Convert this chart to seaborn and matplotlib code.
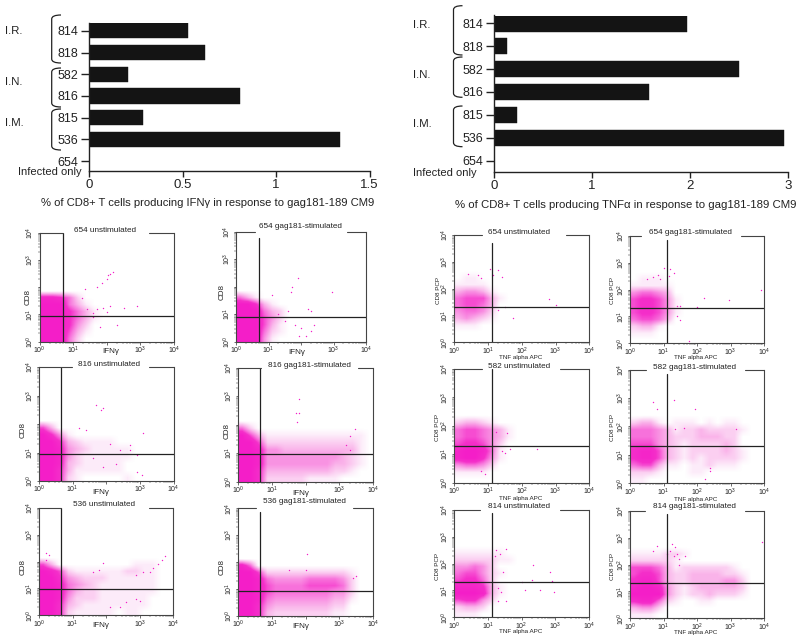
import numpy as np
import pandas as pd
import matplotlib
matplotlib.use("Agg")
import matplotlib.pyplot as plt
import seaborn as sns
from matplotlib.colors import LinearSegmentedColormap
from matplotlib.path import Path
from matplotlib.patches import PathPatch
from matplotlib.ticker import FixedLocator, FixedFormatter

# ---------- bar chart data ----------
monkeys = ["814", "818", "582", "816", "815", "536", "654"]
ifn_values = [0.53, 0.62, 0.21, 0.81, 0.29, 1.34, 0.0]
tnf_values = [1.97, 0.13, 2.50, 1.58, 0.24, 2.96, 0.0]
ifn_ticks = [0, 0.5, 1, 1.5]
ifn_ticklabels = ["0", "0.5", "1", "1.5"]
tnf_ticks = [0, 1, 2, 3]
tnf_ticklabels = ["0", "1", "2", "3"]
ifn_xlabel = "% of CD8+ T cells producing IFN\u03b3 in response to gag181-189 CM9"
tnf_xlabel = "% of CD8+ T cells producing TNF\u03b1 in response to gag181-189 CM9"

# ---------- flow panels: density read per 0.25-decade cell (rows run bottom to top, digit 0-9) ----------
d_654u_i = ["9995200", "9996310", "9997420", "9997531", "9997531", "9995310", "8875200"]
d_654s_i = ["9994100", "9995210", "9996310", "9996420", "9995320", "9973100", "5310000"]
d_816u_i = ["9972100000100000", "9973111111000000", "9983211111000000", "9984211111100000",
            "9984321111100000", "9973211110000000", "9741000000000000", "6300000000000000"]
d_816s_i = ["9972222211110000", "9973333333322100", "9984444444433210", "9984444444443210",
            "9984433333333310", "9962222222222210", "9631111111111110", "5200000000000000"]
d_536u_i = ["9972111110110000", "9973211111111000", "9984222111111000", "9985322111111100",
            "9985432111111100", "9974322211111100", "9862111111221100", "6300000000011100"]
d_536s_i = ["9973222222211000", "9974333333322000", "9985444444433100", "9986555555544200",
            "9986555566665200", "9985444455554200", "9962222222222100", "8500000000000000"]
d_654u_t = ["0000000", "0000000", "1110000", "3432100", "4554200", "5665300", "5666310", "3443100", "1111000", "0110000"]
d_654s_t = ["0000000", "1110000", "2331000", "5665300", "6776410", "6776410", "6776410", "4554300", "1111100", "0111000"]
d_582u_t = ["0000000", "1111000", "4554200", "8997410", "8998510", "6776420", "5665431", "5665431", "2332100"]
d_582s_t = ["1100000000000000", "2221000110000000", "5663110112111000", "7886321212222100",
            "7886321222232100", "6664321222232000", "5554322233322000", "5554312232222100", "2331011101011000"]
d_814u_t = ["1110000000000000", "2332000000000000", "6774200000000000", "9998310000000000",
            "8887310000000000", "6775200000000000", "5664210000000000", "4454200000000000",
            "2222211000000000", "1111110000000000"]
d_814s_t = ["1110000000000000", "3442000000000000", "7885210011000000", "9999421223222100",
            "8998421233333200", "7886322333344200", "6776322333322100", "6665312222221000",
            "2222210000000000", "1111221000000000"]

# ---------- flow panels: isolated events (log10 x, log10 y) ----------
p_654u_i = [(1.7,2.0),(1.85,2.15),(2.0,2.3),(2.05,2.45),(2.1,2.5),(2.2,2.55),(1.35,1.95),(1.4,1.2),(1.7,1.2),(1.9,1.25),
            (2.1,1.3),(2.5,1.25),(2.9,1.3),(1.8,0.55),(2.3,0.6),(1.6,1.05),(2.0,1.1),(1.6,0.9),(1.25,1.6)]
p_654s_i = [(1.7,1.8),(1.72,2.0),(1.9,2.3),(2.95,1.8),(1.1,1.7),(1.3,1.0),(1.6,1.1),(2.2,1.2),(2.3,1.1),(1.8,0.6),
            (2.0,0.5),(2.3,0.4),(2.4,0.6),(1.95,0.2),(2.15,0.2),(1.5,0.75)]
p_816u_i = [(1.7,2.65),(1.85,2.5),(1.9,2.55),(1.2,1.85),(1.4,1.8),(2.1,1.3),(2.7,1.25),(3.1,1.7),(2.9,0.9),(2.9,0.3),
            (3.05,0.2),(2.3,0.6),(1.6,0.8),(1.9,0.5),(2.4,1.1),(2.7,1.1)]
p_816s_i = [(1.7,2.4),(1.8,2.4),(1.75,2.1),(1.8,2.9),(3.45,1.85),(3.3,1.6),(3.2,1.3),(3.3,1.1)]
p_536u_i = [(0.2,2.3),(0.3,2.25),(0.2,2.05),(3.75,2.2),(3.65,2.05),(3.55,1.9),(3.4,1.75),(3.3,1.6),(3.1,1.6),(2.9,1.5),
            (1.9,1.95),(1.8,1.7),(1.6,1.6),(2.6,0.5),(2.9,0.6),(3.0,0.55),(2.1,0.3),(2.4,0.3)]
p_536s_i = [(2.05,2.3),(3.5,1.5),(3.4,1.4),(1.5,1.7),(2.0,1.7)]
p_654u_t = [(0.7,2.5),(0.4,2.55),(1.05,2.75),(1.3,2.7),(1.15,2.5),(1.4,2.45),(0.8,2.4),(2.8,1.6),(3.0,1.4),(1.75,0.9),
            (1.3,1.2),(1.5,1.3)]
p_654s_t = [(0.5,2.4),(0.7,2.45),(0.85,2.55),(0.9,2.4),(1.0,2.8),(1.2,2.75),(1.3,2.6),(1.15,2.5),(1.4,1.4),(1.5,1.4),
            (2.0,1.35),(2.2,1.7),(2.95,1.6),(3.9,2.0),(1.4,1.0),(1.5,0.85),(1.75,0.1)]
p_582u_t = [(1.55,1.75),(1.5,1.05),(1.65,1.2),(2.45,1.2),(1.25,1.8),(1.4,1.1),(0.9,0.3),(0.8,0.4)]
p_582s_t = [(0.7,2.85),(1.3,2.95),(1.95,2.6),(2.4,0.45),(2.4,0.55),(2.25,0.15),(0.8,2.6),(3.15,1.9),(1.35,1.9),(1.6,1.95)]
p_814u_t = [(1.55,2.55),(1.25,2.5),(1.35,2.35),(1.2,2.3),(1.45,1.7),(2.35,1.95),(2.85,1.7),(2.9,1.35),(2.95,0.95),
            (2.55,1.0),(2.1,1.0),(1.4,0.95),(1.55,0.6),(1.3,0.6),(1.3,1.1),(2.0,1.3),(2.3,1.4)]
p_814s_t = [(1.2,2.5),(1.35,2.65),(1.4,2.4),(1.45,2.2),(1.3,2.3),(1.45,2.0),(1.65,2.3),(1.25,2.75),(3.95,2.85),
            (0.8,2.7),(0.7,2.5),(1.1,2.4)]

titles = ["654 unstimulated", "654 gag181-stimulated", "816 unstimulated", "816 gag181-stimulated",
          "536 unstimulated", "536 gag181-stimulated", "654 unstimulated", "654 gag181-stimulated",
          "582 unstimulated", "582 gag181-stimulated", "814 unstimulated", "814 gag181-stimulated"]
densities = [d_654u_i, d_654s_i, d_816u_i, d_816s_i, d_536u_i, d_536s_i,
             d_654u_t, d_654s_t, d_582u_t, d_582s_t, d_814u_t, d_814s_t]
events = [p_654u_i, p_654s_i, p_816u_i, p_816s_i, p_536u_i, p_536s_i,
          p_654u_t, p_654s_t, p_582u_t, p_582s_t, p_814u_t, p_814s_t]
gates_x = [0.69, 0.72, 0.66, 0.66, 0.66, 0.66, 1.13, 1.11, 1.13, 1.11, 1.12, 1.11]
gates_y = [0.94, 0.89, 0.96, 0.96, 0.96, 0.94, 1.30, 1.30, 1.30, 1.30, 1.32, 1.31]
gate_tops = [1.0, 0.945, 1.0, 1.0, 1.0, 0.965, 0.925, 0.96, 1.0, 0.96, 0.97, 0.97]
decade_ticks = [0, 1, 2, 3, 4]
decade_labels = ["$10^{%d}$" % d for d in decade_ticks]
decade_labels_ifn = ["$10^{0}$", "$10^{1}$", "", "$10^{3}$", "$10^{4}$"]

# ---------- layout (pixels) ----------
W, H = 800, 639
boxes = [(39.5,232.7,174,341.7),(236,231.7,366,341.7),(39,367,173.7,481),(238,367.7,373.3,481.7),
         (39,507.7,173.3,615.3),(238,508.3,373,616),(454.3,235,589.3,342.3),(630,235.7,764,343.3),
         (454.3,369,589.3,482.7),(630,369.7,764,483.3),(454,510,589,617.3),(630,510.7,764,618.3)]
top_gaps = [(0.71,3.27),(0.58,3.4),(0.97,3.28),(0.67,3.56),(0.66,3.28),(0.53,3.4),
            (0.81,3.31),(0.32,3.3),(0.81,3.13),(0.48,3.43),(0.76,3.13),(0.45,3.43)]
title_xy = [(104.7,230.3),(300,227),(109.3,364.7),(309.3,365.7),(104,504.3),(304,501.3),
            (519.3,232),(690,232.7),(519.3,366.3),(694.3,367.3),(519,506.7),(694.3,507)]
xlabel_xy = [(111,351),(296.7,352),(101,492.7),(301,493.3),(101,625.7),(300.7,626.7),
             (521,357),(696,358),(521,498.5),(695.7,499),(520.7,632),(695.7,632.8)]
ylabel_xy = [(28,296.7),(221.7,292),(22.7,430),(227,430.7),(23.3,566.7),(222.3,567),
             (438,291),(612.5,291),(437.5,427.7),(612.5,427.7),(437.5,566),(612.5,566)]

sns.set_theme(style="white", rc={"axes.facecolor": "white", "figure.facecolor": "white"})
plt.rcParams["font.family"] = ["Liberation Sans", "DejaVu Sans"]
plt.rcParams["mathtext.default"] = "regular"

fig = plt.figure(figsize=(W / 100, H / 100), dpi=100)
INK = "#222222"
PINK = "#f41ec8"
cmap = LinearSegmentedColormap.from_list(
    "flow", [(0, "#ffffff"), (0.1, "#fdeefa"), (0.33, "#fab4ea"), (0.55, "#f874dc"), (0.75, "#f530ca"), (1, PINK)])


def add_axes(x0, y0, x1, y1):
    return fig.add_axes([x0 / W, 1 - y1 / H, (x1 - x0) / W, (y1 - y0) / H])


def px_text(x, y, s, **kw):
    kw.setdefault("ha", "center")
    kw.setdefault("va", "center")
    kw.setdefault("color", INK)
    fig.text(x / W, 1 - y / H, s, **kw)


def brace(x_spine, x_tip, y0, y1):
    r = 4.0
    pts = [(x_tip, y0), (x_spine, y0), (x_spine, y0 + r), (x_spine, y1 - r), (x_spine, y1), (x_tip, y1)]
    codes = [Path.MOVETO, Path.CURVE3, Path.CURVE3, Path.LINETO, Path.CURVE3, Path.CURVE3]
    pts = [(px / W, 1 - py / H) for px, py in pts]
    fig.add_artist(PathPatch(Path(pts, codes), transform=fig.transFigure, fill=False, lw=0.9, ec=INK))


def bar_panel(box, values, ylim, width, ticks, ticklabels):
    ax = add_axes(*box)
    df = pd.DataFrame({"monkey": monkeys, "pct": values})
    sns.barplot(data=df, x="pct", y="monkey", order=monkeys, color="#141414", saturation=1,
                width=width, ax=ax, edgecolor="#141414", linewidth=0.3)
    ax.set_ylim(*ylim)
    ax.set_xlim(ticks[0], ticks[-1])
    ax.set_xticks(ticks)
    ax.set_xticklabels(ticklabels)
    ax.set_xlabel("")
    ax.set_ylabel("")
    for s in ("top", "right"):
        ax.spines[s].set_visible(False)
    for s in ("left", "bottom"):
        ax.spines[s].set_color(INK)
        ax.spines[s].set_linewidth(1.0)
    ax.tick_params(axis="y", length=6, width=1, color=INK, labelsize=9, labelcolor=INK, pad=2, left=True)
    ax.tick_params(axis="x", length=4.5, width=1, color=INK, labelsize=9.5, labelcolor=INK, pad=1.5, bottom=True)
    return ax


# ---------- bar charts ----------
bar_panel((89, 23, 369.5, 171), ifn_values, (6.46, -0.36), 0.70, ifn_ticks, ifn_ticklabels)
bar_panel((494, 15.5, 787.7, 171.7), tnf_values, (6.48, -0.34), 0.72, tnf_ticks, tnf_ticklabels)

px_text(207.5, 202.5, ifn_xlabel, fontsize=8.1)
px_text(625.8, 205, tnf_xlabel, fontsize=8.2)
px_text(81.7, 172, "Infected only", ha="right", fontsize=8)
px_text(476.7, 173.5, "Infected only", ha="right", fontsize=8)
for x, y, s in [(5, 30.7, "I.R."), (5, 81.7, "I.N."), (5, 122.7, "I.M."),
                (412.7, 25, "I.R."), (412.7, 75, "I.N."), (412.7, 124, "I.M.")]:
    px_text(x, y, s, ha="left", fontsize=8.2)
for x0, x1, y0, y1 in [(51.7, 61, 15, 63), (51.7, 61, 68, 107), (51.7, 61, 109, 150),
                       (453.5, 462.5, 5.7, 55), (453.5, 462.5, 57, 97.3), (453.5, 462.5, 106, 146.7)]:
    brace(x0, x1, y0, y1)

# ---------- flow panels ----------
for i, box in enumerate(boxes):
    ax = add_axes(*box)
    rows = densities[i]
    grid = np.zeros((16, 16))
    for r, row in enumerate(rows):
        for c, ch in enumerate(row):
            grid[r, c] = int(ch)
    ax.imshow(grid, origin="lower", extent=(0, 4, 0, 4), aspect="auto", cmap=cmap, vmin=0, vmax=9,
              interpolation="bilinear", zorder=1)
    pts = pd.DataFrame(events[i], columns=["x", "y"])
    sns.scatterplot(data=pts, x="x", y="y", s=1.0, color=PINK, linewidth=0, ax=ax, zorder=2)
    ax.set_xlim(0, 4)
    ax.set_ylim(0, 4)
    ax.set_xlabel("")
    ax.set_ylabel("")
    ax.axvline(gates_x[i], color=INK, lw=0.9, zorder=3, ymax=gate_tops[i])
    ax.axhline(gates_y[i], color=INK, lw=0.9, zorder=3)
    ax.spines["top"].set_visible(False)
    for s in ("left", "bottom", "right"):
        ax.spines[s].set_color("#444444")
        ax.spines[s].set_linewidth(0.8)
    g0, g1 = top_gaps[i]
    ax.plot([0, g0], [4, 4], color="#444444", lw=0.8, clip_on=False, zorder=4)
    ax.plot([g1, 4], [4, 4], color="#444444", lw=0.8, clip_on=False, zorder=4)
    minor = [d + np.log10(m) for d in range(4) for m in range(2, 10)]
    labels = decade_labels_ifn if i < 6 else decade_labels
    for axis in (ax.xaxis, ax.yaxis):
        axis.set_major_locator(FixedLocator(decade_ticks))
        axis.set_major_formatter(FixedFormatter(labels))
        axis.set_minor_locator(FixedLocator(minor))
    ax.tick_params(which="major", length=1.8, width=0.5, color="#333333", labelsize=5,
                   labelcolor=INK, pad=0.5, left=True, bottom=True)
    ax.tick_params(which="minor", length=1.1, width=0.35, color="#333333", left=True, bottom=True)
    plt.setp(ax.get_yticklabels(), rotation=90, va="center")
    px_text(*title_xy[i], titles[i], fontsize=5.9)
    if i < 6:
        px_text(*xlabel_xy[i], "IFN\u03b3", fontsize=5.8)
        px_text(*ylabel_xy[i], "CD8", fontsize=5.8, rotation=90)
    else:
        px_text(*xlabel_xy[i], "TNF alpha APC", fontsize=4.5)
        px_text(*ylabel_xy[i], "CD8 PCP", fontsize=4.5, rotation=90)

fig.savefig("out.png", dpi=100, facecolor="white")
